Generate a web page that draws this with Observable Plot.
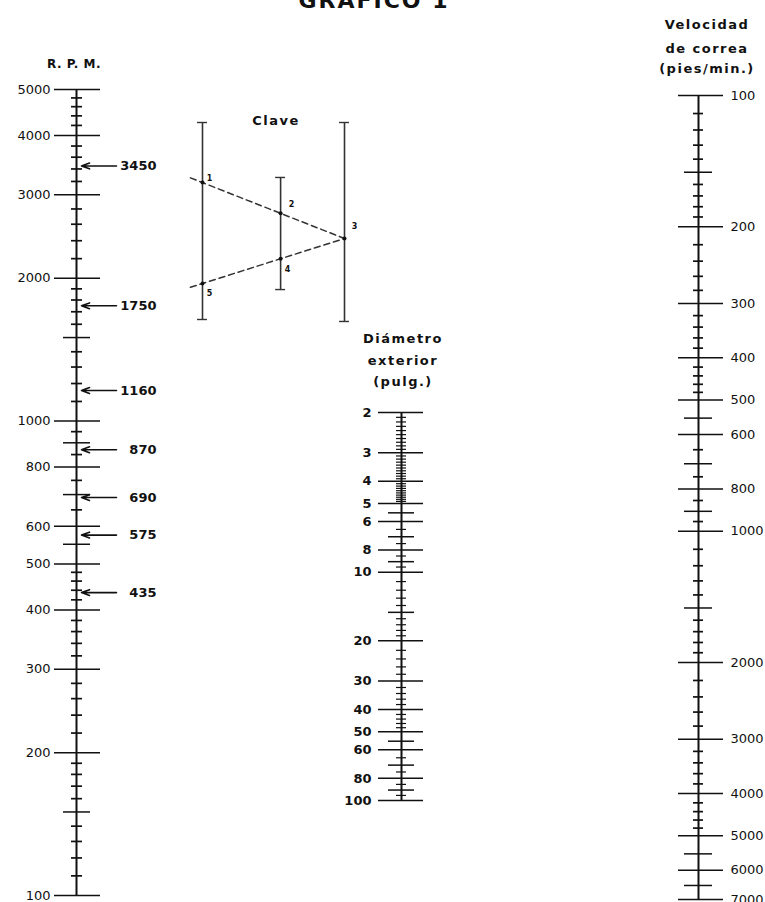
<!DOCTYPE html>
<html>
<head>
<meta charset="utf-8">
<script src="https://cdn.jsdelivr.net/npm/d3@7"></script>
<script src="https://cdn.jsdelivr.net/npm/@observablehq/plot@0.6"></script>
<style>
  body { margin: 0; background: #fff; }
  #wrap { position: relative; width: 765px; height: 902px; overflow: hidden; background: #fff;
          font-family: "DejaVu Sans", sans-serif; color: #111; }
  #wrap svg { position: absolute; left: 0; top: 0; }
  .t { position: absolute; white-space: nowrap; font-weight: bold; text-align: center;
       line-height: 1; font-size: 13px; letter-spacing: 1.5px; width: 200px; }
</style>
</head>
<body>
<div id="wrap"></div>
<script>
// ---------------- DATA ----------------
const titleText = "GRAFICO 1";
const rpmTitle = ["R. P. M."];
const velTitle = ["Velocidad", "de correa", "(pies/min.)"];
const diaTitle = ["Diámetro", "exterior", "(pulg.)"];
const keyTitle = "Clave";

// R.P.M. scale
const rpmMajor = [100, 200, 300, 400, 500, 600, 800, 1000, 2000, 3000, 4000, 5000];
const rpmMedium = [150, 550, 700, 900, 1500];
const rpmMinor = [110, 120, 130, 140, 160, 170, 180, 190,
  220, 240, 260, 280, 320, 340, 360, 380, 420, 440, 460, 480,
  650, 750, 850, 950, 1100, 1200, 1300, 1400, 1600, 1700, 1800, 1900,
  2200, 2400, 2600, 2800, 3200, 3400, 3600, 3800, 4200, 4400, 4600, 4800];
const rpmMarked = [3450, 1750, 1160, 870, 690, 575, 435];

// Velocidad de correa scale
const velMajor = [100, 200, 300, 400, 500, 600, 800, 1000, 2000, 3000, 4000, 5000, 6000, 7000];
const velMedium = [150, 550, 700, 900, 1500, 5500, 6500];
const velMinor = [110, 120, 130, 140, 160, 170, 180, 190,
  220, 240, 260, 280, 320, 340, 360, 380, 420, 440, 460, 480,
  650, 750, 850, 950, 1100, 1200, 1300, 1400, 1600, 1700, 1800, 1900,
  2200, 2400, 2600, 2800, 3200, 3400, 3600, 3800, 4200, 4400, 4600, 4800];

// Diámetro exterior scale
const diaMajor = [2, 3, 4, 5, 6, 8, 10, 20, 30, 40, 50, 60, 80, 100];
const diaMedium = [5.5, 7, 9, 15, 55, 70, 90];
const diaMinor = [2.1, 2.2, 2.3, 2.4, 2.5, 2.6, 2.7, 2.8, 2.9,
  3.1, 3.2, 3.3, 3.4, 3.5, 3.6, 3.7, 3.8, 3.9,
  4.1, 4.2, 4.3, 4.4, 4.5, 4.6, 4.7, 4.8, 4.9,
  6.5, 7.5, 8.5, 9.5, 11, 12, 13, 14, 16, 17, 18, 19,
  22, 24, 26, 28, 32, 34, 36, 38, 42, 44, 46, 48, 65, 75, 85, 95];

// Key (Clave) schematic: three axes and numbered points (abstract units)
const keyAxes = [
  {pos: 0, top: 0, bottom: 1},
  {pos: 0.55, top: 0.279, bottom: 0.848},
  {pos: 1, top: 0, bottom: 1.01}
];
const keyPoints = [
  {id: "1", pos: 0, v: 0.305},
  {id: "2", pos: 0.55, v: 0.461},
  {id: "3", pos: 1, v: 0.589},
  {id: "4", pos: 0.55, v: 0.692},
  {id: "5", pos: 0, v: 0.817}
];
const keyGuides = [["1", "3"], ["5", "3"]];

// ---------------- LAYOUT / STYLE ----------------
const W = 765, H = 902;
const INK = "#111";
const wrap = document.getElementById("wrap");
const baseStyle = {background: "transparent", fontFamily: "DejaVu Sans, sans-serif",
  fontSize: "13px", color: INK, overflow: "visible"};

function scaleAxis(cfg) {
  const dom = d3.extent(cfg.major);
  const [mjL, mjR] = cfg.tickMajor, [mdL, mdR] = cfg.tickMedium, [mnL, mnR] = cfg.tickMinor;
  return Plot.plot({
    width: W, height: H, margin: 0, style: baseStyle,
    x: {type: "linear", domain: [-cfg.axisX, W - cfg.axisX], range: [0, W], axis: null},
    y: {type: "log", domain: dom, range: cfg.range, axis: null},
    marks: [
      Plot.ruleX([0], {y1: dom[0], y2: dom[1], stroke: INK, strokeWidth: cfg.lineWidth}),
      Plot.ruleY(cfg.minor, {x1: -mnL, x2: mnR, stroke: INK, strokeWidth: cfg.minorWidth || 1.7}),
      Plot.ruleY(cfg.medium, {x1: -mdL, x2: mdR, stroke: INK, strokeWidth: 1.5}),
      Plot.ruleY(cfg.major, {x1: -mjL, x2: mjR, stroke: INK, strokeWidth: 1.5}),
      Plot.text(cfg.major, {x: cfg.labelX, y: d => d, text: d => String(d),
        textAnchor: cfg.labelAnchor, fontWeight: cfg.labelWeight, fontSize: cfg.labelSize, fill: INK}),
      ...(cfg.extra || [])
    ]
  });
}

// R.P.M.
wrap.appendChild(scaleAxis({
  axisX: 76, range: [895, 89], major: rpmMajor, medium: rpmMedium, minor: rpmMinor,
  tickMajor: [22, 24], tickMedium: [13, 14], tickMinor: [5, 6],
  labelX: -26, labelAnchor: "end", labelWeight: "normal", labelSize: 13, lineWidth: 2,
  extra: [
    Plot.arrow(rpmMarked, {x1: 40, x2: 5, y1: d => d, y2: d => d, stroke: INK,
      strokeWidth: 1.6, headLength: 8, headAngle: 40}),
    Plot.text(rpmMarked, {x: 80, y: d => d, text: d => String(d), textAnchor: "end",
      fontWeight: "bold", fontSize: 13, fill: INK})
  ]
}));

// Diámetro exterior
wrap.appendChild(scaleAxis({
  axisX: 401, range: [412, 800], major: diaMajor, medium: diaMedium, minor: diaMinor,
  tickMajor: [23, 22], tickMedium: [13, 13], tickMinor: [5, 5], minorWidth: 1.2,
  labelX: -30, labelAnchor: "end", labelWeight: "bold", labelSize: 13, lineWidth: 2
}));

// Velocidad de correa
wrap.appendChild(scaleAxis({
  axisX: 698, range: [95, 899], major: velMajor, medium: velMedium, minor: velMinor,
  tickMajor: [20, 25], tickMedium: [14, 14], tickMinor: [5, 5],
  labelX: 32, labelAnchor: "start", labelWeight: "normal", labelSize: 13, lineWidth: 2
}));

// Key (Clave)
const ptById = Object.fromEntries(keyPoints.map(p => [p.id, p]));
const lead = -0.085;
const guideData = keyGuides.flatMap(([a, b], g) => {
  const A = ptById[a], B = ptById[b];
  const slope = (B.v - A.v) / (B.pos - A.pos);
  return [{g, pos: A.pos + lead, v: A.v + slope * lead}, {g, pos: A.pos, v: A.v}, {g, pos: B.pos, v: B.v}];
});
const keyCaps = keyAxes.flatMap(a => [{pos: a.pos, v: a.top}, {pos: a.pos, v: a.bottom}]);
const capHalf = 0.035;
const labelOffsets = {"1": [7, -4], "2": [11, -9], "3": [10, -12], "4": [7, 11], "5": [7, 10]};
wrap.appendChild(Plot.plot({
  width: W, height: H, margin: 0, style: baseStyle,
  x: {domain: [0, 1], range: [202, 344], axis: null},
  y: {domain: [0, 1], range: [122, 319], axis: null},
  marks: [
    Plot.ruleX(keyAxes, {x: "pos", y1: "top", y2: "bottom", stroke: "#333", strokeWidth: 1.6}),
    Plot.ruleY(keyCaps, {x1: d => d.pos - capHalf, x2: d => d.pos + capHalf, y: "v", stroke: "#333", strokeWidth: 1.4}),
    Plot.line(guideData, {x: "pos", y: "v", z: "g", stroke: "#333", strokeWidth: 1.5, strokeDasharray: "6,4"}),
    Plot.dot(keyPoints, {x: "pos", y: "v", r: 2, fill: INK}),
    ...keyPoints.map(p => Plot.text([p], {x: "pos", y: "v", text: "id",
      dx: labelOffsets[p.id][0], dy: labelOffsets[p.id][1], fontSize: 8, fontWeight: "bold", fill: INK}))
  ]
}));

// ---------------- TEXT BLOCKS ----------------
function addText(str, cx, top, opts = {}) {
  const d = document.createElement("div");
  d.className = "t";
  d.textContent = str;
  d.style.left = (cx - 100) + "px";
  d.style.top = top + "px";
  if (opts.size) d.style.fontSize = opts.size + "px";
  if (opts.ls != null) d.style.letterSpacing = opts.ls + "px";
  wrap.appendChild(d);
}
addText(titleText, 374, -10, {size: 22, ls: 2});
addText(rpmTitle[0], 74, 58, {size: 12, ls: 0.5});
[18, 42, 62].forEach((t, i) => addText(velTitle[i], 707, t));
[332, 354, 375].forEach((t, i) => addText(diaTitle[i], 403, t));
addText(keyTitle, 276, 114);
</script>
</body>
</html>
